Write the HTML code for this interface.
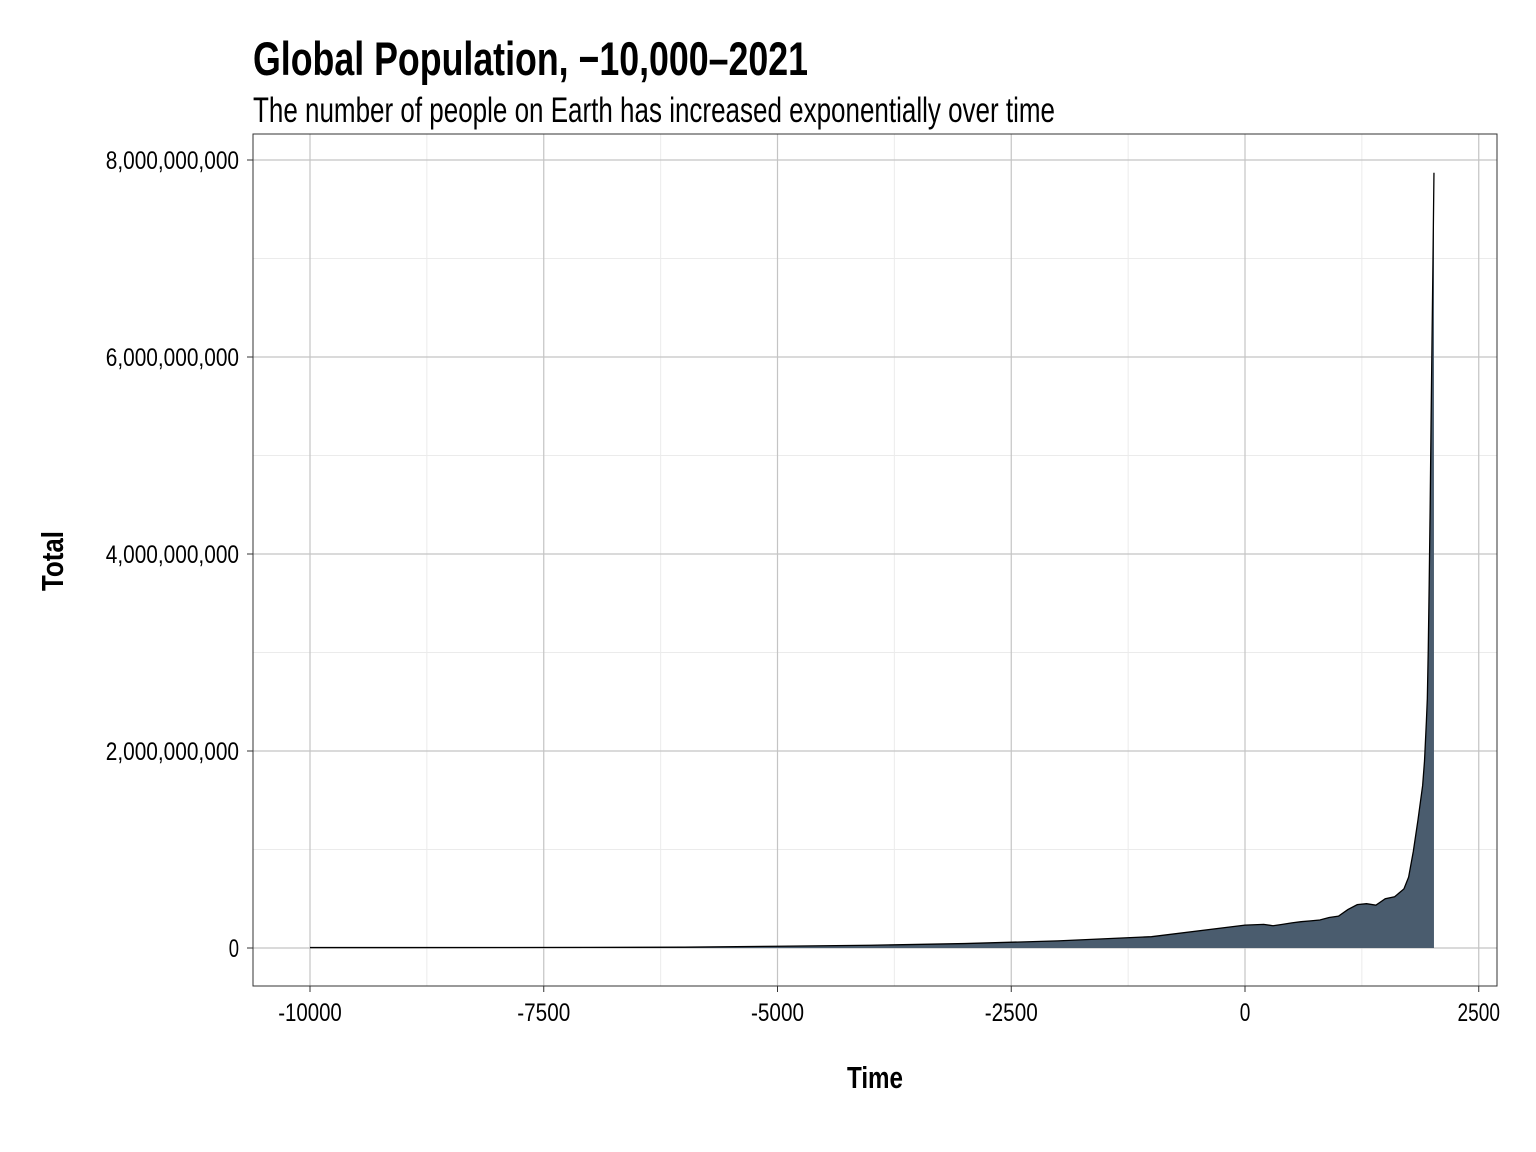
<!DOCTYPE html>
<html><head><meta charset="utf-8"><style>
html,body{margin:0;padding:0;background:#fff}
svg{display:block}
text{font-family:"Liberation Sans Narrow","Liberation Sans",sans-serif;fill:#000}
</style></head><body>
<svg id="chart" width="1536" height="1152" xmlns="http://www.w3.org/2000/svg">
<text x="253" y="75" font-size="47" font-weight="bold" textLength="555" lengthAdjust="spacingAndGlyphs">Global Population, −10,000–2021</text>
<text x="253" y="122" font-size="35" textLength="802" lengthAdjust="spacingAndGlyphs">The number of people on Earth has increased exponentially over time</text>
<g id="grid"></g>
<g id="marks"></g>
<rect x="253" y="134" width="1244" height="852" fill="none" stroke="#333" stroke-width="1"/>
<g id="axes"></g>
<text x="875" y="1088" font-size="31" font-weight="bold" text-anchor="middle" textLength="56" lengthAdjust="spacingAndGlyphs">Time</text>
<text transform="translate(63,561) rotate(-90)" font-size="31" font-weight="bold" text-anchor="middle" textLength="60" lengthAdjust="spacingAndGlyphs">Total</text>
</svg>
<script>
const years = [-10000,-9000,-8000,-7000,-6000,-5000,-4000,-3000,-2000,-1000,0,200,300,400,500,600,700,800,900,1000,1100,1200,1300,1400,1500,1600,1700,1750,1800,1850,1900,1920,1940,1950,1960,1970,1980,1990,2000,2010,2021];
const population = [4.4e6,4.6e6,5e6,6e6,8e6,18e6,28e6,45e6,72e6,115e6,232e6,240e6,226e6,240e6,255e6,267e6,275e6,284e6,310e6,323e6,390e6,440e6,450e6,435e6,500e6,520e6,600e6,720e6,980e6,1300e6,1650e6,1900e6,2300e6,2530e6,3030e6,3700e6,4450e6,5330e6,6150e6,6950e6,7870e6];
const xTicks = [-10000,-7500,-5000,-2500,0,2500];
const xMinor = [-8750,-6250,-3750,-1250,1250];
const yTicks = [0,2e9,4e9,6e9,8e9];
const yTickLabels = ["0","2,000,000,000","4,000,000,000","6,000,000,000","8,000,000,000"];
const yMinor = [1e9,3e9,5e9,7e9];
const NS="http://www.w3.org/2000/svg";
const L=253,R=1497,T=134,B=986;
function xs(v){return 1245+(v)*0.0935;}
function ys(v){return 948-v*(788/8e9);}
function mk(tag,attrs,parent){const e=document.createElementNS(NS,tag);for(const k in attrs)e.setAttribute(k,attrs[k]);parent.appendChild(e);return e;}
const grid=document.getElementById('grid'),axes=document.getElementById('axes'),marks=document.getElementById('marks');
xMinor.forEach(v=>{const l=mk('line',{x1:xs(v),x2:xs(v),y1:T,y2:B,stroke:'#ebebeb','stroke-width':1},grid);

});
yMinor.forEach(v=>{const l=mk('line',{x1:L,x2:R,y1:ys(v),y2:ys(v),stroke:'#ebebeb','stroke-width':1},grid);

});
xTicks.forEach(v=>{const l=mk('line',{x1:xs(v),x2:xs(v),y1:T,y2:B,stroke:'#c4c4c4','stroke-width':1.2},grid);


const t=mk('line',{x1:xs(v),x2:xs(v),y1:B,y2:B+6,stroke:'#333'},axes);


const s=String(v);
const tx=mk('text',{x:xs(v),y:1021,'font-size':25,'text-anchor':'middle',textLength:s.length*10.6,lengthAdjust:'spacingAndGlyphs'},axes);tx.textContent=s;

});
yTicks.forEach((v,i)=>{const l=mk('line',{x1:L,x2:R,y1:ys(v),y2:ys(v),stroke:'#c4c4c4','stroke-width':1.2},grid);


const t=mk('line',{x1:L-6,x2:L,y1:ys(v),y2:ys(v),stroke:'#333'},axes);


const s=yTickLabels[i];
const tx=mk('text',{x:239,y:ys(v)+9,'font-size':25,'text-anchor':'end',textLength:s.length*10.25,lengthAdjust:'spacingAndGlyphs'},axes);tx.textContent=s;

});
let d='M'+xs(years[0])+','+ys(0);
let ld='';
years.forEach((y,i)=>{d+=' L'+xs(y)+','+ys(population[i]);ld+=(i?' L':'M')+xs(y)+','+ys(population[i]);});
d+=' L'+xs(years[years.length-1])+','+ys(0)+' Z';
const a=mk('path',{d:d,fill:'#4a5c6e'},marks);


const ln=mk('path',{d:ld,fill:'none',stroke:'#000','stroke-width':1.3},marks);


</script>
</body></html>
